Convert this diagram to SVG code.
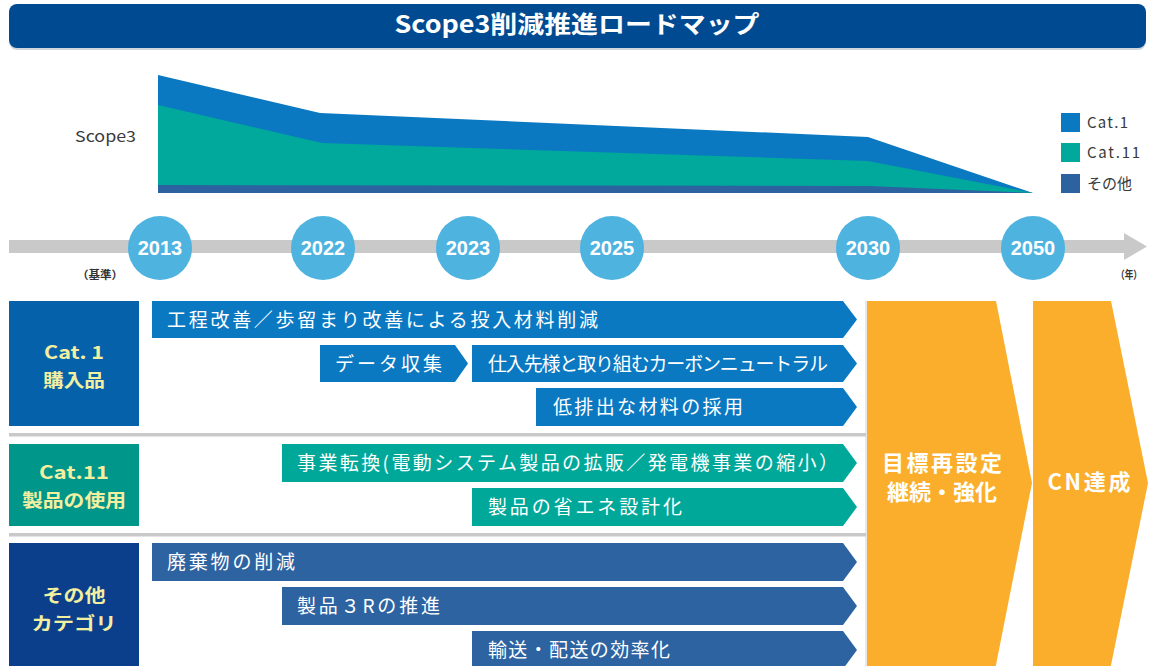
<svg xmlns="http://www.w3.org/2000/svg" width="1149" height="666" viewBox="0 0 1149 666">
<style>
text{font-family:"Noto Sans CJK JP","Noto Sans",sans-serif}
.title{font-size:24px;font-weight:bold;fill:#fff}
.lbl{font-size:15px;fill:#3a3a3a}
.yr{font-family:"Liberation Sans",Arial,sans-serif;font-size:20px;font-weight:bold;fill:#fff}
.sm{font-size:11px;fill:#333;font-weight:bold}
.cat{font-size:18px;font-weight:bold;fill:#f3efa0}
.bar{font-size:19px;fill:#fff}
.big{font-size:22px;font-weight:bold;fill:#fff}
.c1{fill:#0a79c2}.c11{fill:#00a99b}.co{fill:#2c62a0}
.bc1{fill:#0a79c2}.bc11{fill:#00a89a}.bco{fill:#2d63a1}
.orange{fill:#fbae2b}
.circ{fill:#4eb3df}
.sep{fill:#c9c9c9}
</style>
<g id="title">
<rect x="9" y="6" width="1137" height="44" rx="8" fill="#d0d6de"/>
<rect x="9" y="4" width="1137" height="44" rx="8" fill="#004a91"/>
<text class="title" x="577" y="33" text-anchor="middle" textLength="365" lengthAdjust="spacingAndGlyphs">Scope3削減推進ロードマップ</text>
</g>
<g id="chart">
<text class="lbl" x="75" y="142" textLength="61" lengthAdjust="spacingAndGlyphs">Scope3</text>
<polygon class="c1" points="158,75 320,113 868,137 1033,193 158,193"/>
<polygon class="c11" points="158,105 322,143 868,161 1033,193 158,193"/>
<polygon class="co" points="158,185 868,186 1033,193 158,193"/>
</g>
<g id="legend">
<rect class="c1" x="1061" y="113" width="19" height="19"/>
<rect class="c11" x="1061" y="143" width="19" height="19"/>
<rect class="co" x="1061" y="174" width="19" height="19"/>
<text class="lbl" x="1087" y="128" textLength="41">Cat.1</text>
<text class="lbl" x="1087" y="158" textLength="53">Cat.11</text>
<text class="lbl" x="1087" y="189">その他</text>
</g>
<g id="timeline">
<rect class="sep" x="9" y="240" width="1117" height="13"/>
<polygon class="sep" points="1124,233 1147,246.5 1124,260"/>
<text class="sm" x="77" y="279" textLength="46" lengthAdjust="spacingAndGlyphs">（基準）</text>
<text class="sm" x="1142" y="279" text-anchor="end" textLength="26" lengthAdjust="spacingAndGlyphs">（年）</text>
</g>
<g id="y2013"><circle class="circ" cx="160" cy="248" r="32"/><text class="yr" x="160" y="255" text-anchor="middle">2013</text></g>
<g id="y2022"><circle class="circ" cx="323" cy="248" r="32"/><text class="yr" x="323" y="255" text-anchor="middle">2022</text></g>
<g id="y2023"><circle class="circ" cx="468" cy="248" r="32"/><text class="yr" x="468" y="255" text-anchor="middle">2023</text></g>
<g id="y2025"><circle class="circ" cx="612" cy="248" r="32"/><text class="yr" x="612" y="255" text-anchor="middle">2025</text></g>
<g id="y2030"><circle class="circ" cx="868" cy="248" r="32"/><text class="yr" x="868" y="255" text-anchor="middle">2030</text></g>
<g id="y2050"><circle class="circ" cx="1033" cy="248" r="32"/><text class="yr" x="1033" y="255" text-anchor="middle">2050</text></g>
<g id="panels">
<line x1="866" y1="301" x2="866" y2="666" stroke="#d0d0d0" stroke-width="1"/>
<rect class="sep" x="9" y="433" width="857" height="3.5"/>
<rect class="sep" x="9" y="533" width="857" height="3.5"/>
</g>
<g id="cat1">
<rect x="9" y="301" width="130" height="125" fill="#0562aa"/>
<text class="cat" x="74" y="359" text-anchor="middle" textLength="60" lengthAdjust="spacingAndGlyphs">Cat. 1</text>
<text class="cat" x="74" y="387" text-anchor="middle" textLength="62" lengthAdjust="spacingAndGlyphs">購入品</text>
</g>
<g id="cat11">
<rect x="9" y="444" width="130" height="82" fill="#00968a"/>
<text class="cat" x="74" y="479" text-anchor="middle" textLength="70" lengthAdjust="spacingAndGlyphs">Cat.11</text>
<text class="cat" x="74" y="507" text-anchor="middle" textLength="104" lengthAdjust="spacingAndGlyphs">製品の使用</text>
</g>
<g id="other">
<rect x="9" y="543" width="130" height="130" fill="#0b3f8c"/>
<text class="cat" x="74" y="602" text-anchor="middle" textLength="63" lengthAdjust="spacingAndGlyphs">その他</text>
<text class="cat" x="74" y="630" text-anchor="middle" textLength="85" lengthAdjust="spacingAndGlyphs">カテゴリ</text>
</g>
<g id="bar1"><polygon class="bc1" points="152,301 843,301 857,319.5 843,338 152,338"/><text class="bar" x="167" y="326.5" textLength="431">工程改善／歩留まり改善による投入材料削減</text></g>
<g id="bar2"><polygon class="bc1" points="320,345 455,345 468,363.5 455,382 320,382"/><text class="bar" x="335" y="370.5" textLength="107">データ収集</text></g>
<g id="bar3"><polygon class="bc1" points="472,345 843,345 857,363.5 843,382 472,382"/><text class="bar" x="488" y="370.5" textLength="340">仕入先様と取り組むカーボンニュートラル</text></g>
<g id="bar4"><polygon class="bc1" points="536,388 843,388 857,407 843,426 536,426"/><text class="bar" x="553" y="414" textLength="190">低排出な材料の採用</text></g>
<g id="bar5"><polygon class="bc11" points="282,444 843,444 857,463 843,482 282,482"/><text class="bar" x="297" y="470" textLength="541">事業転換(電動システム製品の拡販／発電機事業の縮小）</text></g>
<g id="bar6"><polygon class="bc11" points="472,488 843,488 857,507 843,526 472,526"/><text class="bar" x="488" y="514" textLength="194">製品の省エネ設計化</text></g>
<g id="bar7"><polygon class="bco" points="152,543 843,543 857,562 843,581 152,581"/><text class="bar" x="167" y="569" textLength="128">廃棄物の削減</text></g>
<g id="bar8"><polygon class="bco" points="282,587 843,587 857,606 843,625 282,625"/><text class="bar" x="297" y="613" textLength="143">製品３Rの推進</text></g>
<g id="bar9"><polygon class="bco" points="472,631 843,631 857,650 843,669 472,669"/><text class="bar" x="488" y="657" textLength="182">輸送・配送の効率化</text></g>
<g id="goal1">
<polygon class="orange" points="867,301 996,301 1032,483 993,680 867,680"/>
<text class="big" x="942" y="471" text-anchor="middle" textLength="120">目標再設定</text>
<text class="big" x="942" y="500" text-anchor="middle" textLength="110">継続・強化</text>
</g>
<g id="goal2">
<polygon class="orange" points="1033,301 1111,301 1148,483 1108,680 1033,680"/>
<text class="big" x="1089" y="490" text-anchor="middle" textLength="83">CN達成</text>
</g>
<g id="connectors"/>
</svg>
